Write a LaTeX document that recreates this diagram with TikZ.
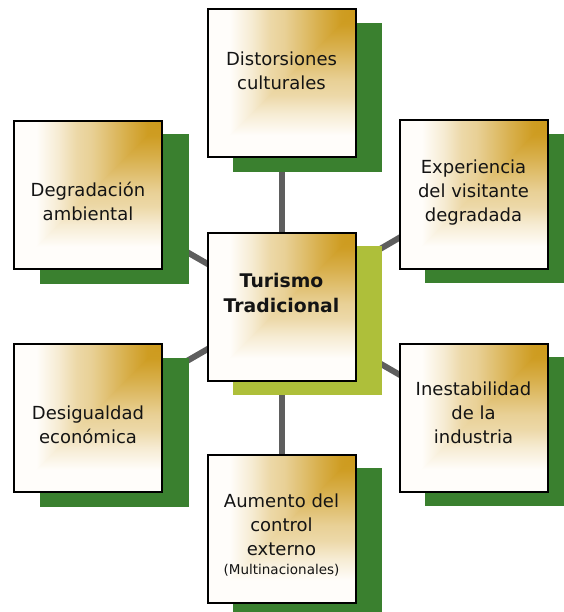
\documentclass[tikz,border=0pt]{standalone}
\usepackage{fontspec}
\setmainfont{DejaVu Sans}
\usetikzlibrary{backgrounds,calc}
\definecolor{gold}{RGB}{205,154,28}
\definecolor{cream}{RGB}{255,253,250}
\definecolor{shgreen}{RGB}{58,128,47}
\definecolor{sholive}{RGB}{174,191,58}
\definecolor{linkgray}{RGB}{94,94,94}
\pgfdeclarehorizontalshading{hgold}{100bp}{color(0bp)=(cream); color(25bp)=(cream); color(32.5bp)=(cream); color(40bp)=(gold!18!cream); color(46bp)=(gold!37!cream); color(51bp)=(gold!45!cream); color(62.5bp)=(gold!78!cream); color(70bp)=(gold!97!cream); color(75bp)=(gold); color(100bp)=(gold)}
\pgfdeclareverticalshading{vgold}{100bp}{color(0bp)=(cream); color(25bp)=(cream); color(32.5bp)=(cream); color(40bp)=(gold!18!cream); color(46bp)=(gold!37!cream); color(51bp)=(gold!45!cream); color(62.5bp)=(gold!78!cream); color(70bp)=(gold!97!cream); color(75bp)=(gold); color(100bp)=(gold)}
\pgfdeclarelayer{shadowlayer}
\pgfdeclarelayer{cardfill}
\pgfsetlayers{background,shadowlayer,cardfill,main}
\tikzset{
  card/.style={draw=black, line width=2pt, minimum size=148pt, inner sep=0pt, outer sep=0pt},
  shadowbox/.style={minimum size=149pt, inner sep=0pt, outer sep=0pt, fill=shgreen},
  lbl/.style={align=center, inner sep=0pt, font=\fontsize{18}{24}\selectfont, text=black!92},
  link/.style={draw=linkgray, line width=6pt}
}
\newcommand\cardshade[1]{%
  \begin{pgfonlayer}{cardfill}
    \shade[shading=hgold] (#1.north west) rectangle (#1.south east);
    \begin{scope}
      \clip (#1.north east) -- (#1.south east) -- (#1.south west) -- cycle;
      \shade[shading=vgold] (#1.north west) rectangle (#1.south east);
    \end{scope}
  \end{pgfonlayer}}
\begin{document}
\begin{tikzpicture}[x=1pt,y=-1pt]
\useasboundingbox (0,0) rectangle (563,612);
\clip (0,0) rectangle (563,612);
% shadows
\begin{pgfonlayer}{shadowlayer}
\node[shadowbox] (distS) at (307.5,97.5) {};
\node[shadowbox] (degrS) at (114,209) {};
\node[shadowbox] (expS) at (499.5,208.5) {};
\node[shadowbox, fill=sholive] (centS) at (307.5,320.5) {};
\node[shadowbox] (desigS) at (114,432) {};
\node[shadowbox] (inestS) at (499.5,431.5) {};
\node[shadowbox] (aumS) at (307.5,542.5) {};
\end{pgfonlayer}
% cards
\node[card] (dist) at (281.5,83.5) {};
\node[card] (degr) at (88,195) {};
\node[card] (exp) at (473.5,194.5) {};
\node[card] (cent) at (281.5,306.5) {};
\node[card] (desig) at (88,418) {};
\node[card] (inest) at (473.5,417.5) {};
\node[card] (aum) at (281.5,528.5) {};
\cardshade{dist}\cardshade{degr}\cardshade{exp}\cardshade{cent}
\cardshade{desig}\cardshade{inest}\cardshade{aum}
% labels
\node[lbl] (distT) at (281.5,70.5) {Distorsiones\\culturales};
\node[lbl] (degrT) at (88,201) {Degradación\\ambiental};
\node[lbl] (expT) at (473.5,193) {Experiencia\\del visitante\\degradada};
\node[lbl, font=\fontsize{18.8}{25}\selectfont\bfseries] (centT) at (281.5,292.5) {Turismo\\Tradicional};
\node[lbl] (desigT) at (88,424.5) {Desigualdad\\económica};
\node[lbl] (inestT) at (473.5,413) {Inestabilidad\\de la\\industria};
\node[lbl] (aumT) at (281.5,535) {Aumento del\\control\\externo\\[-5pt]{\fontsize{13.5}{18}\selectfont(Multinacionales)}};
% connectors
\begin{scope}[on background layer]
\draw[link] (cent.center) -- (dist.center);
\draw[link] (cent.center) -- (degr.center);
\draw[link] (cent.center) -- (exp.center);
\draw[link] (cent.center) -- (desig.center);
\draw[link] (cent.center) -- (inest.center);
\draw[link] (cent.center) -- (aum.center);
\end{scope}
\end{tikzpicture}
\end{document}
